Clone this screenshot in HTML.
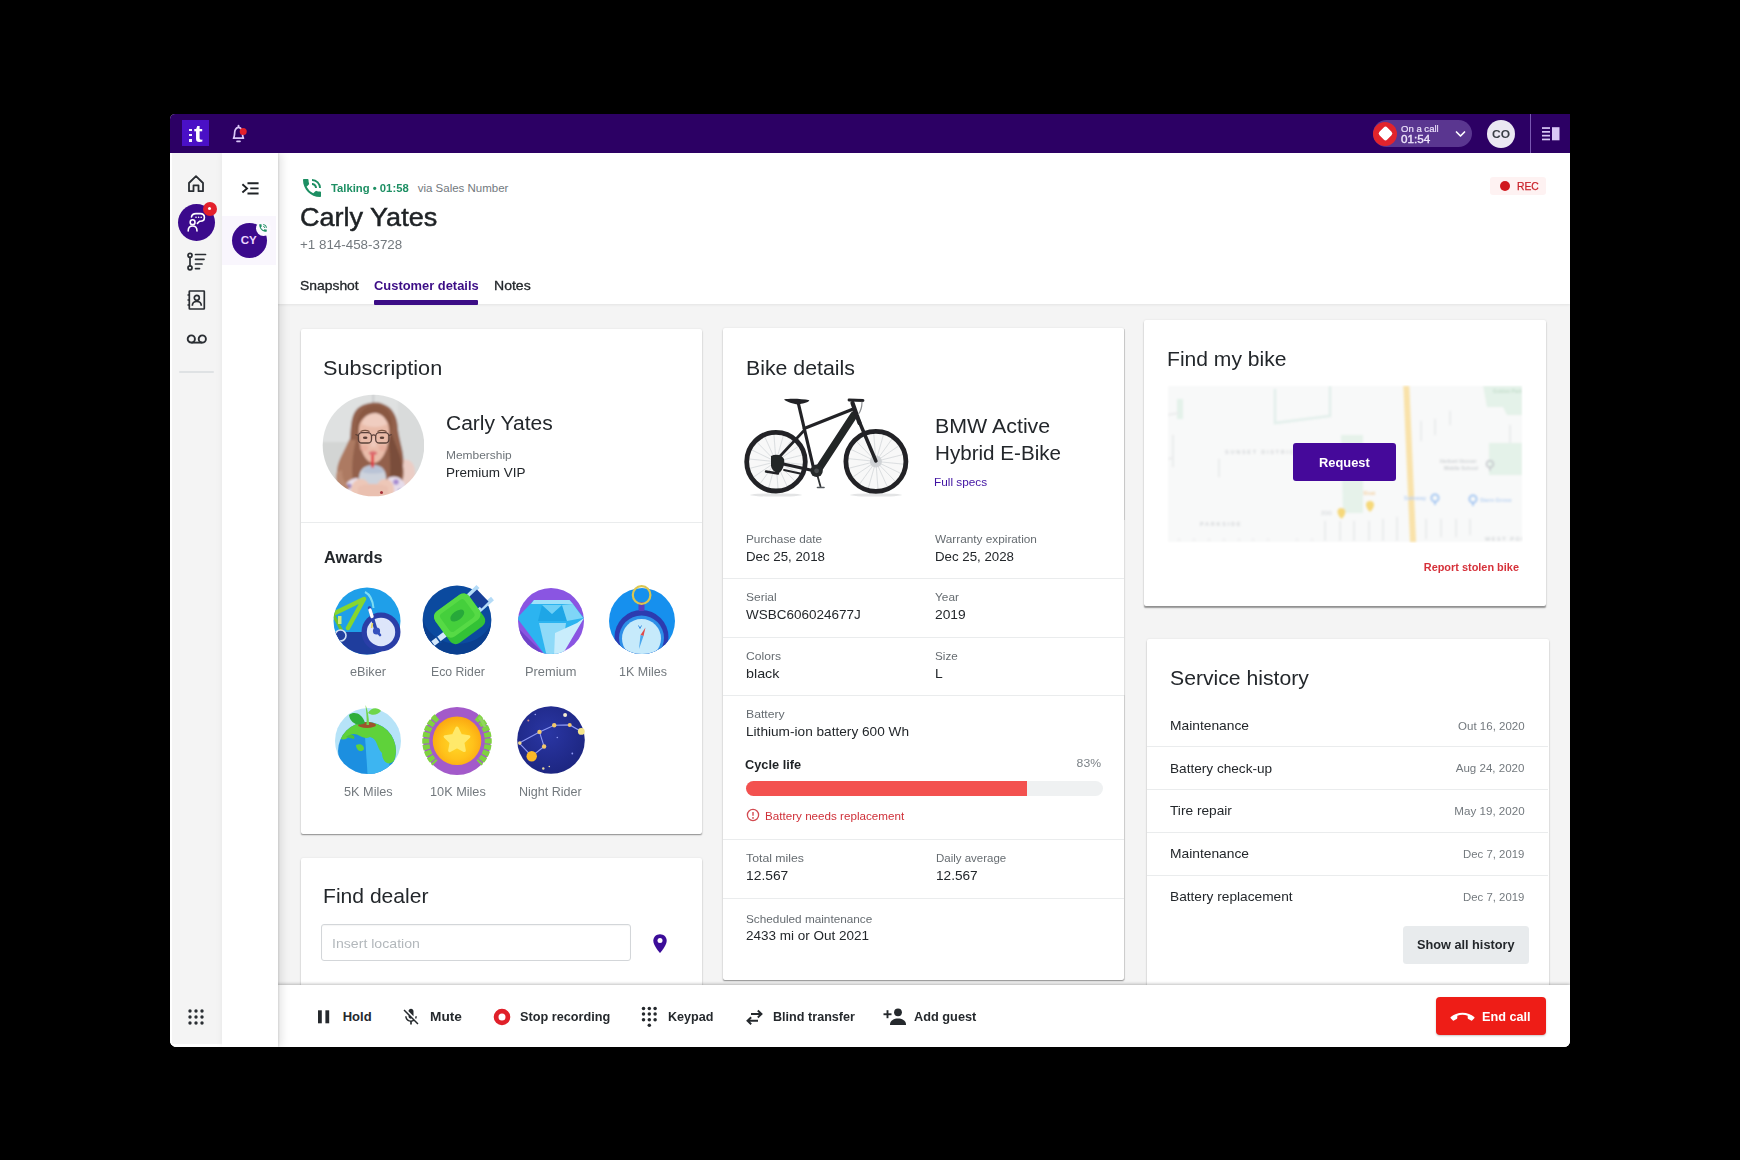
<!DOCTYPE html>
<html lang="en">
<head>
<meta charset="utf-8">
<title>Carly Yates - Customer details</title>
<style>
*{box-sizing:border-box;margin:0;padding:0}
html,body{width:1740px;height:1160px;background:#000;overflow:hidden}
body{font-family:"Liberation Sans",sans-serif;color:#1f2326;position:relative}
.abs,.t,.card,svg.i{position:absolute}
.t{white-space:nowrap;line-height:20px;height:20px;font-size:13px;color:#23272b}
.b{font-weight:bold}
.g{color:#6d7378}
.lbl{font-size:11px;color:#666c71;letter-spacing:-0.1px}
.val{font-size:13px;color:#22262a;letter-spacing:-0.1px}
#win{position:absolute;left:170px;top:114px;width:1400.200px;height:932.800px;background:#f4f4f4;border-radius:5px 0 6px 6.500px;overflow:hidden}
#win .in{position:absolute;left:-170px;top:-114px;width:1740px;height:1160px}
#topbar{left:170px;top:114px;width:1400px;height:39px;background:#2c0064}
#nav1{left:170px;top:153px;width:52px;height:894px;background:#f4f4f4;border-left:2px solid #fff;border-bottom:3px solid #fff}
#nav2{left:222px;top:153px;width:55.500px;height:894px;background:#fff;box-shadow:1px 0 1.500px rgba(0,0,0,.09),3px 0 9px rgba(0,0,0,.12)}
#main{left:277px;top:153px;width:1293px;height:894px;background:#f4f4f4}
#head{left:277px;top:153px;width:1293px;height:151.300px;background:#fff;box-shadow:0 1px 2.500px rgba(0,0,0,.07)}
.card{background:#fff;border-radius:2px;box-shadow:0 1.600px 1.400px -0.600px rgba(0,0,0,.36),0 0.300px 2px rgba(0,0,0,.10)}
.hr{position:absolute;height:1px;background:#eaeced}
.h2{font-size:20px;line-height:26px;height:26px;color:#23272b;letter-spacing:-0.2px}
#bottom{left:277px;top:985px;width:1293px;height:62px;background:#fff;box-shadow:0 -1px 3px rgba(0,0,0,.25)}
.act{font-size:13px;font-weight:bold;color:#23272b;letter-spacing:-0.15px}
</style>
</head>
<body>
<div id="win"><div class="in">

<!-- ===== base panels ===== -->
<div class="abs" id="nav1"></div>
<div class="abs" id="main"></div>

<!-- CARDS -->
<!--CARDS-START-->
<div class="card" style="left:300.500px;top:328.600px;width:401px;height:505.800px"></div>
<div class="t" style="font-size:20.5px;line-height:31px;height:31px;color:#23272b;top:351.80px;left:323.40px;transform-origin:0 50%;transform:scaleX(1.0567);">Subscription</div>
<div class="t" style="font-size:20px;line-height:30px;height:30px;color:#23272b;top:408.00px;left:445.90px;transform-origin:0 50%;transform:scaleX(1.0510);">Carly Yates</div>
<div class="t" style="font-size:11px;line-height:16px;height:16px;color:#6d7378;top:447.30px;left:445.90px;transform-origin:0 50%;transform:scaleX(1.0856);">Membership</div>
<div class="t" style="font-size:13px;line-height:20px;height:20px;color:#23272b;top:463.30px;left:445.90px;transform-origin:0 50%;transform:scaleX(1.0382);">Premium VIP</div>
<div class="hr" style="left:300.5px;top:522px;width:401.0px;background:#eaeced"></div>
<div class="t" style="font-size:16.5px;line-height:25px;height:25px;color:#23272b;top:545.00px;font-weight:bold;left:323.70px;transform-origin:0 50%;transform:scaleX(0.9882);">Awards</div>
<svg class="i" style="left:322px;top:394px;" width="102" height="104" viewBox="0 0 102 104"><defs><clipPath id="avc"><circle cx="51.500" cy="51.500" r="50.800"/></clipPath><filter id="avb" x="-10%" y="-10%" width="120%" height="120%"><feGaussianBlur stdDeviation="1.1"/></filter><filter id="avb2" x="-10%" y="-10%" width="120%" height="120%"><feGaussianBlur stdDeviation="0.35"/></filter></defs>
<g clip-path="url(#avc)"><g filter="url(#avb)">
<rect x="-5" y="-5" width="115" height="115" fill="#dfe1e1"/>
<rect x="-5" y="48" width="40" height="62" fill="#d3d5d4"/>
<rect x="76" y="-5" width="40" height="115" fill="#d9dbdb"/>
<rect x="50.500" y="-5" width="1.600" height="18" fill="#c6c8c9"/>
<path d="M80 66 C88 64 94 70 93 82 L92 106 L76 106 Z" fill="#ebcdc5"/>
<path d="M35 15 C41 9 54 7 61 10 C70 13 76 22 76 36 C78 50 83 60 81 72 C83 82 80 90 77 96 L60 100 L40 100 L24 96 C18 90 13 82 17 72 C21 62 26 54 28 44 C29 32 29 21 35 15 Z" fill="#93614b"/>
<path d="M27 46 C22 58 16 66 15 76 C14 86 18 94 24 98 L34 96 C28 84 30 62 34 46 Z" fill="#ad7a62"/>
<path d="M70 40 C74 54 80 62 80 74 C80 86 76 94 72 98 L66 92 C70 80 68 60 66 44 Z" fill="#7a4e3b"/>
<path d="M37 40 C36 26 42 18 52 18 C62 18 68 26 67 40 C67 54 60 69 52 69 C43 69 37 54 37 40 Z" fill="#e9bba9"/>
<path d="M40 30 C42 22 48 19 53 19 C59 19 64 23 65 30 C60 34 46 34 40 30 Z" fill="#f0cdc0"/>
<path d="M34 38 C34 20 42 11 54 11 C66 12 72 22 70 38 C66 28 62 20 54 19 C44 19 38 26 34 38 Z" fill="#8a5843"/>
<path d="M20 106 C20 92 26 84 36 84 L40 100 L34 106 Z" fill="#e9e1ec"/>
<path d="M66 84 C74 80 82 84 84 94 L84 106 L64 106 Z" fill="#e6dcea"/>
<circle cx="27" cy="92" r="2.600" fill="#9a86c8"/><circle cx="74" cy="88" r="2.800" fill="#a68ad0"/><circle cx="78" cy="97" r="2.200" fill="#8d86c8"/><circle cx="31" cy="99" r="2" fill="#b78ab8"/><circle cx="70" cy="96" r="1.800" fill="#c48ab0"/>
<path d="M37 88 C36 76 42 71 51 71 C60 71 65 76 64 88 L62 100 L39 100 Z" fill="#cdd3dd"/>
<path d="M40 78 C42 73 47 71.500 51 71.500 C56 71.500 60 73 62 78 C56 80 46 80 40 78 Z" fill="#b9c3d6"/>
<path d="M29 104 C27 92 32 84 40 85 C47 86 50 94 47 104 Z" fill="#edc7b8"/>
<path d="M55 104 C52 93 56 85 63 85 C71 85 74 94 71 104 Z" fill="#edc7b8"/>
<path d="M36 93 C42 89 60 89 66 93 L66 106 L36 106 Z" fill="#eac0b0"/>
<ellipse cx="42" cy="54" rx="4" ry="3" fill="#e6a99a" opacity=".7"/><ellipse cx="61" cy="54" rx="4" ry="3" fill="#e6a99a" opacity=".7"/><path d="M50 44 L48.500 53 H54.500 L53 44 Z" fill="#efc9bb"/><path d="M15 78 C12 86 16 94 22 98 L28 94 C22 88 20 84 20 76 Z" fill="#b98870"/><rect x="49.300" y="58.500" width="2.600" height="15" fill="#e2333c"/>
<path d="M46.500 59 C48.500 56.500 53.500 56.500 55.500 59 C53.500 62 48.500 62 46.500 59 Z" fill="#dc6a6e"/>
</g>
<g filter="url(#avb2)"><ellipse cx="43.200" cy="43.800" rx="2.300" ry="1.300" fill="#5b4038"/><ellipse cx="60" cy="43.800" rx="2.300" ry="1.300" fill="#5b4038"/><path d="M38.500 37.600 C41 36.200 45 36.200 47.500 37.400 M55.500 37.400 C58 36.200 62 36.200 64.500 37.600" stroke="#7a5443" stroke-width="1.100" fill="none"/><g fill="none" stroke="#4f3832" stroke-width="1.300" opacity=".92"><rect x="36.300" y="38.600" width="13.200" height="10.400" rx="3.600"/><rect x="53.700" y="38.600" width="13.200" height="10.400" rx="3.600"/><path d="M49.500 41.700 C50.800 40.700 52.400 40.700 53.700 41.700"/><path d="M36.300 41.500 L33.500 40.500 M66.900 41.500 L69.700 40.500"/></g></g>
<circle cx="59.500" cy="98.500" r="1.500" fill="#a8323a"/>
</g></svg>
<svg class="i" style="left:327px;top:581px;" width="80" height="80" viewBox="0 0 80 80"><defs><clipPath id="c1"><circle cx="40" cy="40" r="33.500"/></clipPath></defs>
<circle cx="40" cy="40" r="33.500" fill="#1f9fe9"/>
<g clip-path="url(#c1)">
<path d="M0 51 H80 V80 H0 Z" fill="#1f3d9d"/>
<path d="M6 33 L37 18 L21 47" fill="none" stroke="#86d62e" stroke-width="4.500" stroke-linejoin="round" stroke-linecap="round"/>
<path d="M6 33 L16 52" fill="none" stroke="#6fc22a" stroke-width="3"/>
<rect x="11" y="35" width="3.500" height="8" fill="#cdeb7a"/>
<circle cx="13.500" cy="54.500" r="5.500" fill="#24409f" stroke="#cfe0f6" stroke-width="1.600"/>
<path d="M38 11 C44 14 46 22 46.500 27" fill="none" stroke="#7fdcf2" stroke-width="2"/>
</g>
<circle cx="54" cy="51" r="19.500" fill="#2a3ea7"/>
<circle cx="54" cy="51" r="14.200" fill="#dde5fa"/>
<path d="M42.500 27 L49 49" stroke="#2c45b0" stroke-width="3.400" stroke-linecap="round"/>
<path d="M43 29 L45 35.500" stroke="#fff" stroke-width="3.400" stroke-linecap="round"/>
<path d="M45.500 42 L44.500 47" stroke="#e7d75a" stroke-width="1.600"/>
<circle cx="49.500" cy="50" r="3.600" fill="#3550bd"/>
<path d="M49.500 50 L53 54" stroke="#3550bd" stroke-width="2.600" stroke-linecap="round"/></svg>
<svg class="i" style="left:416.7px;top:579.6px;" width="80" height="80" viewBox="0 0 80 80"><defs><clipPath id="c2"><circle cx="40" cy="40" r="34.400"/></clipPath></defs>
<circle cx="40" cy="40" r="34.400" fill="#0b4a9f"/>
<g clip-path="url(#c2)"><path d="M6 40 A34 34 0 0 0 74 44 A36 32 0 0 1 6 40 Z" fill="#0a3f8f"/></g>
<path d="M47 20 L61 6.500 M61.500 31 L75.500 18.500" stroke="#b4dbf7" stroke-width="4.400" />
<path d="M52.500 16.500 L60 9.500 L71.500 21.500 L64.500 28.500 Z" fill="#173f98"/>
<path d="M29 53.500 L16 63.500" stroke="#d3e8fb" stroke-width="5.500"/>
<path d="M19.500 57 L24 63" stroke="#0b4a9f" stroke-width="1.600"/>
<g transform="rotate(-36 42 38)">
<rect x="21" y="19.500" width="42" height="39" rx="7" fill="#33c236"/>
<rect x="21" y="19.500" width="42" height="31" rx="7" fill="#56da45"/>
<rect x="27" y="24" width="30" height="22" rx="3.500" fill="#45cf3c"/>
<ellipse cx="42" cy="35" rx="8" ry="4.500" fill="#27a93a"/>
</g></svg>
<svg class="i" style="left:510.79999999999995px;top:581px;" width="80" height="80" viewBox="0 0 80 80"><defs><clipPath id="c3"><circle cx="40" cy="40" r="33"/></clipPath></defs>
<circle cx="40" cy="40" r="33" fill="#8a55e2"/>
<g clip-path="url(#c3)">
<path d="M0 40 L40 80 L0 80 Z" fill="#6f43c9"/>
<path d="M23 19 H58.500 L73 37 L50 74 H34 L6 37 Z" fill="#2cb4f0"/>
<path d="M23 19 H58.500 L62 23 H20 Z" fill="#9fe1fa"/>
<path d="M28 42 H55 L50 76 H36 Z" fill="#8fdaf8"/>
<path d="M44 52 L66 42 L73 37 L50 76 H43 Z" fill="#c9edfc"/>
<path d="M31 24 L41 33 L51 24 L56 40 H27 Z" fill="#1ea6e6"/>
<path d="M31 24 H51 L41 33 Z" fill="#6fd0f6"/>
<path d="M56 40 L51 24 L62 23 L72 37 Z" fill="#7fd6f7"/>
</g></svg>
<svg class="i" style="left:602px;top:581px;" width="80" height="80" viewBox="0 0 80 80"><defs><clipPath id="c4"><circle cx="40" cy="40" r="33"/></clipPath></defs>
<circle cx="40" cy="40" r="33" fill="#1690ee"/>
<g clip-path="url(#c4)">
<circle cx="39.500" cy="56" r="27" fill="#2c3bb0"/>
<circle cx="39.500" cy="57" r="22.500" fill="#2d8fe8"/>
<circle cx="39.500" cy="57.500" r="19.500" fill="#c6eafb"/>
<path d="M43.500 46.500 L41.500 55 L38.500 54 Z" fill="#e04a4a"/>
<path d="M38.500 54 L41.500 55 L37 68 Z" fill="#4aa6ee"/>
<path d="M36.500 44.500 L38 47.500 L39.500 44.500" fill="none" stroke="#3c8fe0" stroke-width="1"/>
</g>
<rect x="36.500" y="21" width="6" height="9" rx="1.500" fill="#5a3fc0"/>
<circle cx="39.600" cy="14" r="8.800" fill="none" stroke="#d9c652" stroke-width="2.200"/></svg>
<svg class="i" style="left:328px;top:701px;" width="80" height="80" viewBox="0 0 80 80"><defs><clipPath id="c5"><circle cx="40" cy="40" r="33"/></clipPath><clipPath id="c5e"><circle cx="39" cy="50" r="29"/></clipPath></defs>
<circle cx="40" cy="40" r="33" fill="#b6e3f8"/>
<g clip-path="url(#c5)">
<circle cx="39" cy="50" r="29" fill="#1c8fe0"/>
<g clip-path="url(#c5e)">
<path d="M36 20 L60 28 L62 80 L40 80 Z" fill="#3db5f1"/>
<path d="M10 34 C18 20 40 18 52 24 C66 30 72 46 66 60 C60 66 54 60 54 52 C48 46 50 38 42 36 C34 40 30 30 22 34 C18 40 12 40 10 34 Z" fill="#5fd23a"/>
<path d="M28 44 C32 42 36 44 36 48 C34 52 28 50 28 44 Z" fill="#5fd23a"/>
<path d="M18 36 C22 32 28 34 26 38 Z" fill="#4cc23a"/>
</g>
<ellipse cx="39" cy="24" rx="9" ry="3" fill="#a0522d"/>
</g>
<path d="M38.500 24 C39 16 38 10 37.500 4 C39.500 8 41 16 41 24 Z" fill="#6fd64a"/>
<path d="M37 22 C30 26 22 22 21 14 C26 10 34 12 37 22 Z" fill="#2fae3a"/>
<path d="M40 12 C43 6 50 6 53 10 C50 14 44 15 40 12 Z" fill="#6fd64a"/></svg>
<svg class="i" style="left:416.6px;top:700.5px;" width="80" height="80" viewBox="0 0 80 80"><defs><radialGradient id="g10" cx="50%" cy="55%" r="55%"><stop offset="0" stop-color="#ffd928"/><stop offset="0.600" stop-color="#ffc21a"/><stop offset="1" stop-color="#fba611"/></radialGradient></defs>
<circle cx="40" cy="40" r="34" fill="#a35aca"/>
<path d="M20 16 A31 31 0 0 0 18 62" fill="none" stroke="#7fd240" stroke-width="7" stroke-dasharray="5 1.200"/>
<path d="M60 16 A31 31 0 0 1 62 62" fill="none" stroke="#7fd240" stroke-width="7" stroke-dasharray="5 1.200"/>
<path d="M62 16 A33 33 0 0 1 68 26" fill="none" stroke="#8fd85a" stroke-width="3"/>
<circle cx="40" cy="39.700" r="24.300" fill="url(#g10)"/>
<polygon points="40.00,27.00 43.64,34.48 51.89,35.64 45.90,41.42 47.35,49.61 40.00,45.70 32.65,49.61 34.10,41.42 28.11,35.64 36.36,34.48" fill="#ffe96a" stroke="#ffe96a" stroke-width="3" stroke-linejoin="round"/></svg>
<svg class="i" style="left:510.70000000000005px;top:699.5px;" width="80" height="80" viewBox="0 0 80 80"><defs><radialGradient id="gn" cx="45%" cy="40%" r="65%"><stop offset="0" stop-color="#2a36a4"/><stop offset="1" stop-color="#1c257f"/></radialGradient></defs>
<circle cx="40" cy="40" r="33.800" fill="url(#gn)"/>
<polyline points="8.3,43.1 28.5,31.9 43.2,25.2 58.7,24.9 70.3,31.4" fill="none" stroke="#8e9af4" stroke-width="1.100"/>
<polyline points="28.5,31.9 33.1,46.5 20.7,56.2 8.3,43.1" fill="none" stroke="#8e9af4" stroke-width="1.100"/><circle cx="28.5" cy="31.9" r="2.2" fill="#f3c86a"/><circle cx="43.2" cy="25.2" r="2.2" fill="#f3c86a"/><circle cx="58.7" cy="24.9" r="2" fill="#f3c86a"/><circle cx="33.1" cy="46.5" r="2.2" fill="#f3c86a"/><circle cx="8.8" cy="43.1" r="1.8" fill="#f3d88a"/><circle cx="54.1" cy="15.1" r="2" fill="#f4ecd0"/><circle cx="70.3" cy="31.4" r="3.4" fill="#f5e58a"/><circle cx="20.7" cy="56.2" r="5.2" fill="#fbb928"/><circle cx="32.3" cy="68.5" r="1.2" fill="#e8d8a0"/><circle cx="17.3" cy="20.5" r="1" fill="#d08a8a"/><circle cx="24.3" cy="14.5" r="0.8" fill="#9aa4f0"/><circle cx="61.3" cy="53.5" r="0.9" fill="#8f9bf5"/><circle cx="46.3" cy="37.5" r="0.8" fill="#8f9bf5"/><circle cx="38.3" cy="66.5" r="0.8" fill="#e8d8a0"/></svg>
<div class="t" style="font-size:13px;line-height:20px;height:20px;color:#73797e;top:661.90px;left:350.10px;transform-origin:0 50%;transform:scaleX(0.9742);">eBiker</div>
<div class="t" style="font-size:13px;line-height:20px;height:20px;color:#73797e;top:661.90px;left:430.80px;transform-origin:0 50%;transform:scaleX(0.9425);">Eco Rider</div>
<div class="t" style="font-size:13px;line-height:20px;height:20px;color:#73797e;top:661.90px;left:525.40px;transform-origin:0 50%;transform:scaleX(0.9882);">Premium</div>
<div class="t" style="font-size:13px;line-height:20px;height:20px;color:#73797e;top:661.90px;left:618.60px;transform-origin:0 50%;transform:scaleX(0.9609);">1K Miles</div>
<div class="t" style="font-size:13px;line-height:20px;height:20px;color:#73797e;top:781.50px;left:343.60px;transform-origin:0 50%;transform:scaleX(0.9769);">5K Miles</div>
<div class="t" style="font-size:13px;line-height:20px;height:20px;color:#73797e;top:781.50px;left:429.70px;transform-origin:0 50%;transform:scaleX(0.9775);">10K Miles</div>
<div class="t" style="font-size:13px;line-height:20px;height:20px;color:#73797e;top:781.50px;left:518.60px;transform-origin:0 50%;transform:scaleX(0.9642);">Night Rider</div>
<div class="card" style="left:722.700px;top:328.300px;width:401.300px;height:652.200px"></div>
<div class="t" style="font-size:20.5px;line-height:31px;height:31px;color:#23272b;top:352.00px;left:746.40px;transform-origin:0 50%;transform:scaleX(1.0388);">Bike details</div>
<svg class="i" style="left:738px;top:388px;" width="180" height="120" viewBox="0 0 180 120"><defs><filter id="bkb" x="-5%" y="-5%" width="110%" height="110%"><feGaussianBlur stdDeviation="0.6"/></filter></defs>
<ellipse cx="38" cy="107" rx="26" ry="1.600" fill="#e3e4e5"/><ellipse cx="138" cy="107" rx="26" ry="1.600" fill="#e3e4e5"/>
<g filter="url(#bkb)">
<path d="M38.0 73.7 L65.9 76.5 M38.0 73.7 L63.2 85.9 M38.0 73.7 L57.5 93.7 M38.0 73.7 L49.5 99.2 M38.0 73.7 L40.1 101.6 M38.0 73.7 L30.4 100.7 M38.0 73.7 L21.6 96.4 M38.0 73.7 L14.9 89.5 M38.0 73.7 L10.9 80.6 M38.0 73.7 L10.1 70.9 M38.0 73.7 L12.8 61.5 M38.0 73.7 L18.5 53.7 M38.0 73.7 L26.5 48.2 M38.0 73.7 L35.9 45.8 M38.0 73.7 L45.6 46.7 M38.0 73.7 L54.4 51.0 M38.0 73.7 L61.1 57.9 M38.0 73.7 L65.1 66.8 " stroke="#cfd3d6" stroke-width=".6" fill="none"/>
<path d="M137.9 73.4 L166.8 76.3 M137.9 73.4 L164.0 86.0 M137.9 73.4 L158.1 94.2 M137.9 73.4 L149.8 99.8 M137.9 73.4 L140.1 102.3 M137.9 73.4 L130.0 101.3 M137.9 73.4 L121.0 96.9 M137.9 73.4 L113.9 89.7 M137.9 73.4 L109.8 80.5 M137.9 73.4 L109.0 70.5 M137.9 73.4 L111.8 60.8 M137.9 73.4 L117.7 52.6 M137.9 73.4 L126.0 47.0 M137.9 73.4 L135.7 44.5 M137.9 73.4 L145.8 45.5 M137.9 73.4 L154.8 49.9 M137.9 73.4 L161.9 57.1 M137.9 73.4 L166.0 66.3 " stroke="#cfd3d6" stroke-width=".6" fill="none"/>
<circle cx="38" cy="73.700" r="29.300" fill="rgba(60,70,80,.045)" stroke="#222426" stroke-width="4.800"/>
<circle cx="137.900" cy="73.400" r="30" fill="rgba(60,70,80,.045)" stroke="#222426" stroke-width="4.800"/>
<circle cx="137.900" cy="73.400" r="6" fill="#c9cccf" opacity=".8"/>
<g stroke="#222426" stroke-linecap="round" fill="none">
<path d="M60.500 16 L76 82" stroke-width="3.200"/>
<path d="M66.200 40.500 L114 21.500" stroke-width="3.100"/>
<path d="M116 27 L82 79" stroke-width="7.600" stroke="#242628"/>
<path d="M114.500 15 L121.500 35" stroke-width="4.200"/>
<path d="M121 33 L137.900 73" stroke-width="3.500"/>
<path d="M66.500 42 L38.500 72" stroke-width="2.700"/>
<path d="M38.500 74.500 L77 83" stroke-width="3.300"/>
<path d="M111 12 L125 12.500" stroke-width="2.800"/>
<path d="M124 14 C124 20 122 24 120.500 26" stroke-width="1.200" stroke="#8a8d90"/>
<path d="M79 86 L82.500 98.500" stroke-width="1.800" stroke="#2d3033"/>
<path d="M79.500 99.500 H86" stroke-width="1.600" stroke="#555a5e"/>
<path d="M28 83.500 L40 85.500" stroke-width="2.400"/>
<path d="M46 82 L62 85.500" stroke-width="1.800"/>
</g>
<path d="M46 11.500 C52 10.300 64 10.800 71.400 12.300 C70 15 64 15.500 60 16.600 C55 15.800 49 14 46 11.500 Z" fill="#222426"/>
<path d="M33 68 C38 65.500 44 67 46 71 C47 76 45 82 41 85 C37 85 34 82 33 78 Z" fill="#232527"/>
<circle cx="78.600" cy="82.800" r="6.200" fill="#27292b"/>
<circle cx="78.600" cy="82.800" r="2.400" fill="#4a4d50"/>
</g></svg>
<div class="t" style="font-size:20px;line-height:30px;height:30px;color:#23272b;top:411.00px;left:934.90px;transform-origin:0 50%;transform:scaleX(1.0687);">BMW Active</div>
<div class="t" style="font-size:20px;line-height:30px;height:30px;color:#23272b;top:438.00px;left:934.90px;transform-origin:0 50%;transform:scaleX(1.0306);">Hybrid E-Bike</div>
<div class="t" style="font-size:11px;line-height:16px;height:16px;color:#4012a2;top:474.00px;left:933.70px;transform-origin:0 50%;transform:scaleX(1.0724);">Full specs</div>
<div class="t" style="font-size:11px;line-height:16px;height:16px;color:#666c71;top:531.30px;left:745.90px;transform-origin:0 50%;transform:scaleX(1.0728);">Purchase date</div>
<div class="t" style="font-size:13px;line-height:20px;height:20px;color:#23272b;top:547.10px;left:745.90px;transform-origin:0 50%;transform:scaleX(1.0215);">Dec 25, 2018</div>
<div class="t" style="font-size:11px;line-height:16px;height:16px;color:#666c71;top:531.30px;left:934.90px;transform-origin:0 50%;transform:scaleX(1.0731);">Warranty expiration</div>
<div class="t" style="font-size:13px;line-height:20px;height:20px;color:#23272b;top:547.10px;left:934.90px;transform-origin:0 50%;transform:scaleX(1.0215);">Dec 25, 2028</div>
<div class="hr" style="left:723px;top:578px;width:401px;background:#eaeced"></div>
<div class="t" style="font-size:11px;line-height:16px;height:16px;color:#666c71;top:589.40px;left:745.90px;transform-origin:0 50%;transform:scaleX(1.0916);">Serial</div>
<div class="t" style="font-size:13px;line-height:20px;height:20px;color:#23272b;top:605.20px;left:745.90px;transform-origin:0 50%;transform:scaleX(1.0373);">WSBC606024677J</div>
<div class="t" style="font-size:11px;line-height:16px;height:16px;color:#666c71;top:589.40px;left:934.90px;transform-origin:0 50%;transform:scaleX(1.0753);">Year</div>
<div class="t" style="font-size:13px;line-height:20px;height:20px;color:#23272b;top:605.20px;left:934.90px;transform-origin:0 50%;transform:scaleX(1.0615);">2019</div>
<div class="hr" style="left:723px;top:637px;width:401px;background:#eaeced"></div>
<div class="t" style="font-size:11px;line-height:16px;height:16px;color:#666c71;top:647.80px;left:745.90px;transform-origin:0 50%;transform:scaleX(1.1011);">Colors</div>
<div class="t" style="font-size:13px;line-height:20px;height:20px;color:#23272b;top:663.60px;left:745.90px;transform-origin:0 50%;transform:scaleX(1.1005);">black</div>
<div class="t" style="font-size:11px;line-height:16px;height:16px;color:#666c71;top:647.80px;left:934.90px;transform-origin:0 50%;transform:scaleX(1.0608);">Size</div>
<div class="t" style="font-size:13px;line-height:20px;height:20px;color:#23272b;top:663.60px;left:934.90px;transform-origin:0 50%;transform:scaleX(1.0649);">L</div>
<div class="hr" style="left:723px;top:695px;width:401px;background:#eaeced"></div>
<div class="t" style="font-size:11px;line-height:16px;height:16px;color:#666c71;top:706.40px;left:745.90px;transform-origin:0 50%;transform:scaleX(1.1105);">Battery</div>
<div class="t" style="font-size:13px;line-height:20px;height:20px;color:#23272b;top:722.20px;left:745.90px;transform-origin:0 50%;transform:scaleX(1.0492);">Lithium-ion battery 600 Wh</div>
<div class="t" style="font-size:13.5px;line-height:20px;height:20px;color:#1f2326;top:754.50px;font-weight:bold;left:745.40px;transform-origin:0 50%;transform:scaleX(0.9464);">Cycle life</div>
<div class="t" style="font-size:11.5px;line-height:17px;height:17px;color:#7d8388;top:755.30px;right:638.50px;transform-origin:100% 50%;transform:scaleX(1.0601);">83%</div>
<div class="abs" style="left:745.8px;top:780.5px;width:356.79999999999995px;height:15.0px;background:#eff1f2;border-radius:8px"></div>
<div class="abs" style="left:745.8px;top:780.5px;width:281.5px;height:15.0px;background:#f3514f;border-radius:8px 0 0 8px"></div>
<svg class="i" style="left:746px;top:808.3px;" width="14" height="14" viewBox="0 0 14 14"><circle cx="7" cy="7" r="5.600" fill="none" stroke="#d24a50" stroke-width="1.300"/><path d="M7 3.900 V7.800" stroke="#d24a50" stroke-width="1.400"/><circle cx="7" cy="9.900" r=".9" fill="#d24a50"/></svg>
<div class="t" style="font-size:11px;line-height:16px;height:16px;color:#cf3039;top:807.70px;left:764.80px;transform-origin:0 50%;transform:scaleX(1.0589);">Battery needs replacement</div>
<div class="hr" style="left:723px;top:839px;width:401px;background:#eaeced"></div>
<div class="t" style="font-size:11px;line-height:16px;height:16px;color:#666c71;top:850.20px;left:745.90px;transform-origin:0 50%;transform:scaleX(1.1163);">Total miles</div>
<div class="t" style="font-size:13px;line-height:20px;height:20px;color:#23272b;top:866.00px;left:745.90px;transform-origin:0 50%;transform:scaleX(1.0638);">12.567</div>
<div class="t" style="font-size:11px;line-height:16px;height:16px;color:#666c71;top:850.20px;left:935.90px;transform-origin:0 50%;transform:scaleX(1.0438);">Daily average</div>
<div class="t" style="font-size:13px;line-height:20px;height:20px;color:#23272b;top:866.00px;left:935.90px;transform-origin:0 50%;transform:scaleX(1.0487);">12.567</div>
<div class="hr" style="left:723px;top:898px;width:401px;background:#eaeced"></div>
<div class="t" style="font-size:11px;line-height:16px;height:16px;color:#666c71;top:910.50px;left:745.90px;transform-origin:0 50%;transform:scaleX(1.0701);">Scheduled maintenance</div>
<div class="t" style="font-size:13px;line-height:20px;height:20px;color:#23272b;top:926.30px;left:745.90px;transform-origin:0 50%;transform:scaleX(1.0386);">2433 mi or Out 2021</div>
<div class="abs" style="left:1123.6px;top:329px;width:1.6000000000001364px;height:191px;background:rgba(0,0,0,.10);"></div>
<div class="abs" style="left:1123.6px;top:695px;width:1.6000000000001364px;height:285px;background:rgba(0,0,0,.08);"></div>
<div class="card" style="left:1144px;top:320px;width:401.500px;height:286px"></div>
<div class="t" style="font-size:20.5px;line-height:31px;height:31px;color:#23272b;top:342.60px;left:1167.40px;transform-origin:0 50%;transform:scaleX(1.0284);">Find my bike</div>
<svg class="i" style="left:1167px;top:385px;overflow:hidden;opacity:.8" width="356" height="158" viewBox="0 0 356 158"><defs><filter id="mpb" x="-2%" y="-2%" width="104%" height="104%"><feGaussianBlur stdDeviation="1"/></filter></defs>
<rect width="356" height="158" fill="#f7f8f8"/>
<g filter="url(#mpb)">
<path d="M316 0 H356 V30 H340 L336 22 H320 Z" fill="#deefe4"/>
<rect x="322" y="58" width="34" height="32" fill="#deefe4"/>
<path d="M174 50 H196 V128 H176 Z" fill="#e0f0e6"/>
<rect x="10" y="14" width="6" height="20" fill="#deefe6"/>
<path d="M108 4 V38 L163 31 V0" fill="none" stroke="#dcece7" stroke-width="2.500"/>
<path d="M0 30 L12 28 M0 74 L6 73 M6 50 V82 M52 74 V92" stroke="#e6e8e9" stroke-width="2"/>
<path d="M239.200 -2 L246.200 160" stroke="#f8dc95" stroke-width="6"/>
<g stroke="#e2e4e6" stroke-width="1.600"><path d="M158 136 V156 M173 136 V156 M187 136 V156 M202 136 V156 M216 134 V156 M230 132 V156 M259 134 V154 M274 134 V152 M289 134 V152 M303 134 V150"/><path d="M254 36 V56 M268 34 V50 M283 26 V40 M343 40 V58"/></g>
<g stroke="#e8eaeb" stroke-width="1.200"><path d="M12 153 V157 M27 153 V157 M42 153 V157 M57 153 V157 M72 153 V157 M86 153 V157 M101 153 V157 M130 153 V157 M145 153 V157"/></g>
<path d="M170.500 127 a4 4 0 1 1 8 0 c0 3-4 7-4 7 s-4-4-4-7z" fill="#f4cf58"/>
<path d="M199 120 a4 4 0 1 1 8 0 c0 3-4 7-4 7 s-4-4-4-7z" fill="#f4cf58"/>
<circle cx="268" cy="113" r="3.600" fill="none" stroke="#8ab6ee" stroke-width="1.800"/><path d="M268 117 v3" stroke="#8ab6ee" stroke-width="1.600"/>
<circle cx="306" cy="114" r="3.600" fill="none" stroke="#8ab6ee" stroke-width="1.800"/><path d="M306 118 v3" stroke="#8ab6ee" stroke-width="1.600"/>
<circle cx="323" cy="79" r="3.400" fill="none" stroke="#b9bec2" stroke-width="1.800"/><path d="M323 83 v3" stroke="#b9bec2" stroke-width="1.600"/>
<g font-family="Liberation Sans, sans-serif" font-weight="bold">
<text x="58" y="69" font-size="5.600" letter-spacing="1.700" fill="#c9cdd0">SUNSET DISTRICT</text>
<text x="33" y="141" font-size="5.600" letter-spacing="1.700" fill="#c9cdd0">PARKSIDE</text>
<text x="318" y="155.500" font-size="5.600" letter-spacing="1.500" fill="#c9cdd0">WEST PORTAL</text>
<text x="237" y="115" font-size="5.500" fill="#a9c8f0">Safeway</text>
<text x="313" y="117" font-size="5.500" fill="#a9c8f0">Stern Grove</text>
<text x="273" y="78" font-size="5" fill="#c4c8cb">Herbert Hoover</text>
<text x="277" y="84.500" font-size="5" fill="#c4c8cb">Middle School</text>
<text x="326" y="8" font-size="5" fill="#b5d6bf">Golden Park</text>
<text x="196" y="110" font-size="5" fill="#f1c78d">Sloat</text>
<text x="154" y="129.500" font-size="5" fill="#cfd2d5">ZOO</text>
</g>
</g></svg>
<div class="abs" style="left:1167px;top:385px;width:356px;height:158px;background:transparent;box-shadow:inset 0 0 2.500px 1px #fff"></div>
<div class="abs" style="left:1293px;top:443px;width:103px;height:38px;background:#45099a;border-radius:3px"></div>
<div class="t" style="font-size:13.5px;line-height:20px;height:20px;color:#fff;top:453.20px;font-weight:bold;left:1319.10px;transform-origin:0 50%;transform:scaleX(0.9519);">Request</div>
<div class="t" style="font-size:11px;line-height:16px;height:16px;color:#d6313a;top:559.40px;font-weight:bold;right:220.60px;transform-origin:100% 50%;transform:scaleX(0.9921);">Report stolen bike</div>
<div class="card" style="left:1146.500px;top:638.500px;width:402px;height:370px"></div>
<div class="t" style="font-size:20.5px;line-height:31px;height:31px;color:#23272b;top:662.30px;left:1170.00px;transform-origin:0 50%;transform:scaleX(1.0333);">Service history</div>
<div class="t" style="font-size:13px;line-height:20px;height:20px;color:#23272b;top:715.70px;left:1170.00px;transform-origin:0 50%;transform:scaleX(1.0612);">Maintenance</div>
<div class="t" style="font-size:11px;line-height:16px;height:16px;color:#73797e;top:717.50px;right:215.60px;transform-origin:100% 50%;transform:scaleX(1.0455);">Out 16, 2020</div>
<div class="hr" style="left:1147px;top:746px;width:401px;background:#eaeced"></div>
<div class="t" style="font-size:13px;line-height:20px;height:20px;color:#23272b;top:758.50px;left:1170.00px;transform-origin:0 50%;transform:scaleX(1.0467);">Battery check-up</div>
<div class="t" style="font-size:11px;line-height:16px;height:16px;color:#73797e;top:760.30px;right:215.60px;transform-origin:100% 50%;transform:scaleX(1.0497);">Aug 24, 2020</div>
<div class="hr" style="left:1147px;top:789px;width:401px;background:#eaeced"></div>
<div class="t" style="font-size:13px;line-height:20px;height:20px;color:#23272b;top:801.10px;left:1170.00px;transform-origin:0 50%;transform:scaleX(1.0534);">Tire repair</div>
<div class="t" style="font-size:11px;line-height:16px;height:16px;color:#73797e;top:802.90px;right:215.60px;transform-origin:100% 50%;transform:scaleX(1.0547);">May 19, 2020</div>
<div class="hr" style="left:1147px;top:832px;width:401px;background:#eaeced"></div>
<div class="t" style="font-size:13px;line-height:20px;height:20px;color:#23272b;top:843.80px;left:1170.00px;transform-origin:0 50%;transform:scaleX(1.0612);">Maintenance</div>
<div class="t" style="font-size:11px;line-height:16px;height:16px;color:#73797e;top:845.60px;right:215.60px;transform-origin:100% 50%;transform:scaleX(1.0318);">Dec 7, 2019</div>
<div class="hr" style="left:1147px;top:875px;width:401px;background:#eaeced"></div>
<div class="t" style="font-size:13px;line-height:20px;height:20px;color:#23272b;top:886.70px;left:1170.00px;transform-origin:0 50%;transform:scaleX(1.0538);">Battery replacement</div>
<div class="t" style="font-size:11px;line-height:16px;height:16px;color:#73797e;top:888.50px;right:215.60px;transform-origin:100% 50%;transform:scaleX(1.0318);">Dec 7, 2019</div>
<div class="abs" style="left:1402.5px;top:926px;width:126.5px;height:37.5px;background:#e8ebed;border-radius:3.500px"></div>
<div class="t" style="font-size:13px;line-height:20px;height:20px;color:#23272b;top:934.80px;font-weight:bold;left:1417.00px;transform-origin:0 50%;transform:scaleX(0.9781);">Show all history</div>
<div class="card" style="left:300.500px;top:857.500px;width:401px;height:160px"></div>
<div class="t" style="font-size:20.5px;line-height:31px;height:31px;color:#23272b;top:880.30px;left:323.40px;transform-origin:0 50%;transform:scaleX(1.0287);">Find dealer</div>
<div class="abs" style="left:321px;top:924px;width:310px;height:37px;background:#fff;border:1px solid #d3d6d9;border-radius:3px;box-shadow:inset 0 1px 1px rgba(0,0,0,.04)"></div>
<div class="t" style="font-size:13px;line-height:20px;height:20px;color:#b3b8bc;top:933.80px;left:331.70px;transform-origin:0 50%;transform:scaleX(1.0860);">Insert location</div>
<svg class="i" style="left:651.5px;top:933px;" width="16" height="21" viewBox="0 0 16 21"><path d="M8 1.200 C4.200 1.200 1.300 4 1.300 7.700 C1.300 12.400 8 20 8 20 S14.700 12.400 14.700 7.700 C14.700 4 11.800 1.200 8 1.200 Z" fill="#3c0d99"/><circle cx="8" cy="7.600" r="2.500" fill="#fff"/></svg>
<!--CARDS-END-->

<div class="abs" id="head"></div>
<!--HEAD-START-->
<svg class="i" style="left:300px;top:176px;" width="24" height="24" viewBox="0 0 24 24"><path fill="#1d8f63" d="M20 15.5c-1.25 0-2.45-.2-3.57-.57a1 1 0 0 0-1.02.24l-2.2 2.2a15.05 15.05 0 0 1-6.59-6.59l2.2-2.21a.96.96 0 0 0 .25-1A11.36 11.36 0 0 1 8.5 4c0-.55-.45-1-1-1H4c-.55 0-1 .45-1 1 0 9.39 7.61 17 17 17 .55 0 1-.45 1-1v-3.5c0-.55-.45-1-1-1zM19 12h2a9 9 0 0 0-9-9v2c3.87 0 7 3.13 7 7zm-4 0h2c0-2.76-2.24-5-5-5v2c1.66 0 3 1.34 3 3z"/></svg>
<div class="t" style="font-size:11.5px;line-height:17px;height:17px;color:#1d8f63;top:179.70px;font-weight:bold;left:331.40px;transform-origin:0 50%;transform:scaleX(0.9806);">Talking • 01:58</div>
<div class="t" style="font-size:11.5px;line-height:17px;height:17px;color:#73797e;top:179.70px;left:417.70px;transform-origin:0 50%;">via Sales Number</div>
<div class="t" style="font-size:26px;line-height:39px;height:39px;color:#1e2225;top:198.00px;-webkit-text-stroke:0.5px #1e2225;left:300.40px;transform-origin:0 50%;transform:scaleX(1.0395);">Carly Yates</div>
<div class="t" style="font-size:13px;line-height:20px;height:20px;color:#73797e;top:234.50px;left:300.40px;transform-origin:0 50%;transform:scaleX(1.0282);">+1 814-458-3728</div>
<div class="t" style="font-size:13px;line-height:20px;height:20px;color:#23272b;top:275.50px;-webkit-text-stroke:0.3px #23272b;left:300.20px;transform-origin:0 50%;transform:scaleX(1.0685);">Snapshot</div>
<div class="t" style="font-size:13px;line-height:20px;height:20px;color:#3c0d86;top:275.50px;font-weight:bold;left:374.00px;transform-origin:0 50%;transform:scaleX(0.9926);">Customer details</div>
<div class="t" style="font-size:13px;line-height:20px;height:20px;color:#23272b;top:275.50px;-webkit-text-stroke:0.3px #23272b;left:494.00px;transform-origin:0 50%;transform:scaleX(1.0807);">Notes</div>
<div class="abs" style="left:374.2px;top:300.3px;width:103.80000000000001px;height:4.300000000000011px;background:#3c0d86;border-radius:1px"></div>
<div class="abs" style="left:1489.5px;top:176.5px;width:56.5px;height:18.80000000000001px;background:#fef2f2;border-radius:3px"></div>
<div class="abs" style="left:1499.6px;top:180.5px;width:10.800000000000182px;height:10.800000000000011px;background:#d0191e;border-radius:50%"></div>
<div class="t" style="font-size:11px;line-height:16px;height:16px;color:#c9222a;top:177.70px;-webkit-text-stroke:0.25px #c9222a;left:1517.00px;transform-origin:0 50%;transform:scaleX(0.9387);">REC</div>
<!--HEAD-END-->

<div class="abs" id="bottom"></div>
<div class="abs" id="nav2"></div>
<!--BOTTOM-START-->
<svg class="i" style="left:317px;top:1010px;" width="14" height="14" viewBox="0 0 14 14"><rect x="1" y="0.300" width="3.800" height="13" fill="#25292d"/><rect x="8.400" y="0.300" width="3.800" height="13" fill="#25292d"/></svg>
<div class="t" style="font-size:13px;line-height:20px;height:20px;color:#25292d;top:1007.00px;font-weight:bold;left:342.70px;transform-origin:0 50%;">Hold</div>
<svg class="i" style="left:400.5px;top:1006.5px;" width="20" height="20" viewBox="0 0 24 24"><path fill="#25292d" d="M19 11h-1.700c0 .74-.16 1.430-.430 2.050l1.230 1.230c.560-.980.900-2.090.900-3.280zm-4.020.170c0-.6.020-.110.020-.170V5c0-1.660-1.340-3-3-3S9 3.340 9 5v.180l5.980 5.990zM4.270 3L3 4.270l6.010 6.010V11c0 1.660 1.330 3 2.990 3 .220 0 .440-.3.650-.080l1.660 1.660c-.710.330-1.500.520-2.310.520-2.760 0-5.300-2.100-5.300-5.100H5c0 3.410 2.720 6.230 6 6.720V21h2v-3.280c.910-.130 1.770-.450 2.540-.900L19.730 21 21 19.730 4.270 3z"/></svg>
<div class="t" style="font-size:13px;line-height:20px;height:20px;color:#25292d;top:1007.00px;font-weight:bold;left:430.40px;transform-origin:0 50%;transform:scaleX(1.0517);">Mute</div>
<svg class="i" style="left:492.5px;top:1008px;" width="18" height="18" viewBox="0 0 18 18"><circle cx="9" cy="9" r="5.900" fill="#fff" stroke="#e0202a" stroke-width="4.800"/></svg>
<div class="t" style="font-size:13px;line-height:20px;height:20px;color:#25292d;top:1007.00px;font-weight:bold;left:520.40px;transform-origin:0 50%;transform:scaleX(0.9757);">Stop recording</div>
<svg class="i" style="left:641px;top:1005.5px;" width="17" height="22" viewBox="0 0 17 22"><g fill="#25292d"><circle cx="2.5" cy="2.5" r="1.750"/><circle cx="2.5" cy="8.1" r="1.750"/><circle cx="2.5" cy="13.7" r="1.750"/><circle cx="8.3" cy="2.5" r="1.750"/><circle cx="8.3" cy="8.1" r="1.750"/><circle cx="8.3" cy="13.7" r="1.750"/><circle cx="14.1" cy="2.5" r="1.750"/><circle cx="14.1" cy="8.1" r="1.750"/><circle cx="14.1" cy="13.7" r="1.750"/><circle cx="8.300" cy="19.300" r="1.750"/></g></svg>
<div class="t" style="font-size:13px;line-height:20px;height:20px;color:#25292d;top:1007.00px;font-weight:bold;left:668.40px;transform-origin:0 50%;transform:scaleX(0.9689);">Keypad</div>
<svg class="i" style="left:744.5px;top:1007.5px;" width="19" height="19" viewBox="0 0 19 19"><g fill="none" stroke="#25292d" stroke-width="1.900"><path d="M6 6 H16.500 M12.800 2.500 L16.500 6 L12.800 9.500"/><path d="M13 12.800 H2.500 M6.200 9.300 L2.500 12.800 L6.200 16.300"/></g></svg>
<div class="t" style="font-size:13px;line-height:20px;height:20px;color:#25292d;top:1007.20px;font-weight:bold;left:773.00px;transform-origin:0 50%;transform:scaleX(0.9702);">Blind transfer</div>
<svg class="i" style="left:883px;top:1006px;" width="24" height="20" viewBox="0 0 24 20"><g fill="#25292d"><circle cx="15" cy="6.300" r="3.900"/><path d="M7 18.500 c0-4.200 4.300-6 8-6 s8 1.800 8 6 v0.500 h-16 z"/><rect x="0.500" y="7.300" width="8" height="1.900"/><rect x="3.550" y="4.200" width="1.900" height="8"/></g></svg>
<div class="t" style="font-size:13px;line-height:20px;height:20px;color:#25292d;top:1007.20px;font-weight:bold;left:913.70px;transform-origin:0 50%;transform:scaleX(0.9802);">Add guest</div>
<div class="abs" style="left:1436px;top:997px;width:110px;height:38.299999999999955px;background:#ee1d17;border-radius:4px;box-shadow:0 1px 2px rgba(0,0,0,.22)"></div>
<svg class="i" style="left:1450px;top:1010px;" width="25" height="14" viewBox="0 0 24 12"><path fill="#fff" d="M12 1.800C7.600 1.800 3.600 3.400.700 6.100c-.3.300-.3.800 0 1.100l2.100 2.100c.3.300.7.300 1 .1.800-.6 1.700-1.100 2.600-1.500.3-.1.600-.5.600-.900V4.700c1.600-.5 3.300-.8 5-.8s3.400.3 5 .8v2.300c0 .4.200.8.600.900.900.4 1.800.900 2.600 1.500.3.200.7.200 1-.1l2.100-2.100c.3-.3.300-.8 0-1.100-2.900-2.700-6.900-4.300-11.300-4.300z"/></svg>
<div class="t" style="font-size:13px;line-height:20px;height:20px;color:#fff;top:1007.00px;font-weight:bold;left:1482.20px;transform-origin:0 50%;transform:scaleX(0.9749);">End call</div>
<!--BOTTOM-END-->

<!--NAV-START-->
<svg class="i" style="left:186px;top:174px;" width="20" height="20" viewBox="0 0 20 20"><path d="M3 9 L10 2.2 L17 9 V17.2 H12.5 V11.3 H7.5 V17.2 H3 Z" fill="none" stroke="#2a2e33" stroke-width="1.8" stroke-linejoin="round"/></svg>
<div class="abs" style="left:178px;top:204px;width:37px;height:37px;background:#3b0a8c;border-radius:50%"></div>
<svg class="i" style="left:184px;top:210px;" width="24" height="24" viewBox="0 0 24 24"><g fill="none" stroke="#fff" stroke-width="1.6" stroke-linecap="round"><circle cx="8.6" cy="12.2" r="2.4"/><path d="M4.2 21 c0-3.2 2-5 4.4-5 s4.4 1.8 4.4 5"/><path d="M7.5 7 c0.3-2.2 2-3.4 4.5-3.4 h4.2 c2.6 0 4.2 1.600 4.200 3.800 s-1.600 3.800-4.200 3.800 h-0.600 l-2.200 2.200"/></g><g fill="#fff"><circle cx="12" cy="7.300" r=".8"/><circle cx="14.600" cy="7.300" r=".8"/><circle cx="17.200" cy="7.300" r=".8"/></g></svg>
<div class="abs" style="left:202.8px;top:201.6px;width:14.0px;height:14.0px;background:#e3202b;border-radius:50%"></div>
<div class="abs" style="left:208.3px;top:207.1px;width:3.0px;height:3.0px;background:#fff;border-radius:50%"></div>
<svg class="i" style="left:186px;top:251px;" width="22" height="22" viewBox="0 0 22 22"><g fill="none" stroke="#2a2e33" stroke-width="1.7" stroke-linecap="round"><circle cx="4" cy="4.3" r="2"/><circle cx="4" cy="16.800" r="2"/><path d="M4 6.5 V14.600"/><path d="M9.500 3.500 H19.500 M9.500 8.300 H18 M9.500 13 H16 M9.500 17.600 H13.500"/></g></svg>
<svg class="i" style="left:186px;top:289px;" width="22" height="22" viewBox="0 0 22 22"><g fill="none" stroke="#2a2e33" stroke-width="1.7"><rect x="3.300" y="2" width="15" height="18" rx="0.500"/><circle cx="10.800" cy="8.800" r="2.500"/><path d="M6.300 16.800 c0-3 2-4.300 4.500-4.300 s4.500 1.300 4.500 4.300"/><path d="M1.500 6 H4 M1.500 11 H4 M1.500 16 H4" stroke-width="1.300"/></g></svg>
<svg class="i" style="left:185px;top:331px;" width="24" height="16" viewBox="0 0 24 16"><g fill="none" stroke="#2a2e33" stroke-width="1.900"><circle cx="6.300" cy="8" r="3.600"/><circle cx="17.300" cy="8" r="3.600"/><path d="M6.300 11.600 H17.300"/></g></svg>
<div class="abs" style="left:179px;top:371px;width:35px;height:2px;background:#dfe2e4;border-radius:1px"></div>
<svg class="i" style="left:187px;top:1008px;" width="18" height="18" viewBox="0 0 18 18"><g fill="#2a2e33"><circle cx="3" cy="3" r="1.700"/><circle cx="3" cy="9" r="1.700"/><circle cx="3" cy="15" r="1.700"/><circle cx="9" cy="3" r="1.700"/><circle cx="9" cy="9" r="1.700"/><circle cx="9" cy="15" r="1.700"/><circle cx="15" cy="3" r="1.700"/><circle cx="15" cy="9" r="1.700"/><circle cx="15" cy="15" r="1.700"/></g></svg>
<svg class="i" style="left:240.6px;top:181.2px;" width="18.5" height="14.8" viewBox="0 0 20 16"><g fill="none" stroke="#1f2326" stroke-width="2.100" stroke-linecap="butt"><path d="M7 2.500 H19 M10 8 H19 M7 13.500 H19"/><path d="M1.500 3.500 L6.500 8 L1.500 12.500" stroke-linejoin="miter"/></g></svg>
<div class="abs" style="left:222px;top:216px;width:54px;height:49px;background:#f9f6fd;"></div>
<div class="abs" style="left:232px;top:223px;width:35px;height:35px;background:#3b0a8c;border-radius:50%"></div>
<div class="t" style="font-size:11.5px;line-height:17px;height:17px;color:#ecd6ff;top:232.30px;font-weight:bold;left:240.80px;transform-origin:0 50%;">CY</div>
<div class="abs" style="left:255.5px;top:220.5px;width:15.0px;height:15.0px;background:#fbf9fe;border-radius:50%"></div>
<svg class="i" style="left:258px;top:223px;" width="10" height="10" viewBox="0 0 24 24"><path fill="#1d8f63" d="M20 15.500c-1.250 0-2.450-.200-3.570-.570a1 1 0 0 0-1.020.240l-2.200 2.200a15.050 15.050 0 0 1-6.590-6.590l2.200-2.210a.960.960 0 0 0 .250-1A11.360 11.360 0 0 1 8.500 4c0-.550-.450-1-1-1H4c-.550 0-1 .450-1 1 0 9.390 7.610 17 17 17 .550 0 1-.450 1-1v-3.500c0-.550-.450-1-1-1zM19 12h2a9 9 0 0 0-9-9v2c3.870 0 7 3.130 7 7zm-4 0h2c0-2.760-2.240-5-5-5v2c1.660 0 3 1.340 3 3z"/></svg>
<!--NAV-END-->

<div class="abs" id="topbar"></div>
<!--TOP-START-->
<div class="abs" style="left:182px;top:120px;width:27px;height:26px;background:#4a10c6;"></div>
<div class="t" style="font-size:24.5px;line-height:37px;height:37px;color:#fff;top:115.00px;font-weight:bold;left:194.00px;transform-origin:0 50%;transform:scaleX(1.0542);">t</div>
<div class="abs" style="left:189px;top:128.5px;width:3.3000000000000114px;height:2.8000000000000114px;background:#fff;opacity:.95"></div>
<div class="abs" style="left:189px;top:133.7px;width:3.3000000000000114px;height:2.8000000000000114px;background:#fff;opacity:.95"></div>
<div class="abs" style="left:189px;top:138.9px;width:3.3000000000000114px;height:2.799999999999983px;background:#fff;opacity:.95"></div>
<svg class="i" style="left:229px;top:123px;" width="20" height="22" viewBox="0 0 20 22"><g fill="none" stroke="#d9c6f7" stroke-width="1.700" stroke-linecap="round" stroke-linejoin="round"><path d="M4.500 15.200 C6 13.500 5.200 10 6 7.500 C6.700 5.400 8 4.300 9.500 4.300 S12.300 5.400 13 7.500 C13.800 10 13 13.500 14.500 15.200 Z"/><path d="M8 18.300 H11"/><path d="M9.500 2.500 V4"/></g><circle cx="14.200" cy="8.600" r="3.500" fill="#e3202b"/></svg>
<div class="abs" style="left:1373px;top:120px;width:99px;height:27px;background:#5a3690;border-radius:14px"></div>
<div class="abs" style="left:1373px;top:121.5px;width:24px;height:24.0px;background:#e2242c;border-radius:50%"></div>
<div class="abs" style="left:1379.6px;top:128px;width:11.0px;height:11px;background:#fff;border-radius:2.500px;transform:rotate(45deg)"></div>
<div class="t" style="font-size:9.5px;line-height:14px;height:14px;color:#eadffa;top:121.60px;-webkit-text-stroke:0.2px #eadffa;left:1401.10px;transform-origin:0 50%;transform:scaleX(1.0056);">On a call</div>
<div class="t" style="font-size:11.5px;line-height:17px;height:17px;color:#efe6fb;top:131.40px;-webkit-text-stroke:0.35px #efe6fb;left:1401.10px;transform-origin:0 50%;transform:scaleX(1.0145);">01:54</div>
<svg class="i" style="left:1455px;top:129.8px;" width="11" height="9" viewBox="0 0 11 9"><path d="M1.500 2 L5.500 6 L9.500 2" fill="none" stroke="#fff" stroke-width="1.700" stroke-linecap="round" stroke-linejoin="round"/></svg>
<div class="abs" style="left:1487px;top:120px;width:28px;height:28px;background:#ebe8f2;border-radius:50%"></div>
<div class="t" style="font-size:11.5px;line-height:17px;height:17px;color:#3a3f45;top:125.50px;font-weight:bold;left:1491.70px;transform-origin:0 50%;transform:scaleX(1.0435);">CO</div>
<div class="abs" style="left:1530px;top:114px;width:1.2000000000000455px;height:39px;background:#7a58b2;"></div>
<svg class="i" style="left:1541px;top:126px;" width="20" height="16" viewBox="0 0 20 16"><g fill="#d9c8f6"><rect x="1" y="1.200" width="8" height="1.700"/><rect x="1" y="5" width="8" height="1.700"/><rect x="1" y="8.800" width="8" height="1.700"/><rect x="1" y="12.600" width="8" height="1.700"/><rect x="11" y="1.200" width="7.500" height="13.100"/></g></svg>
<!--TOP-END-->

</div></div>
</body>
</html>
